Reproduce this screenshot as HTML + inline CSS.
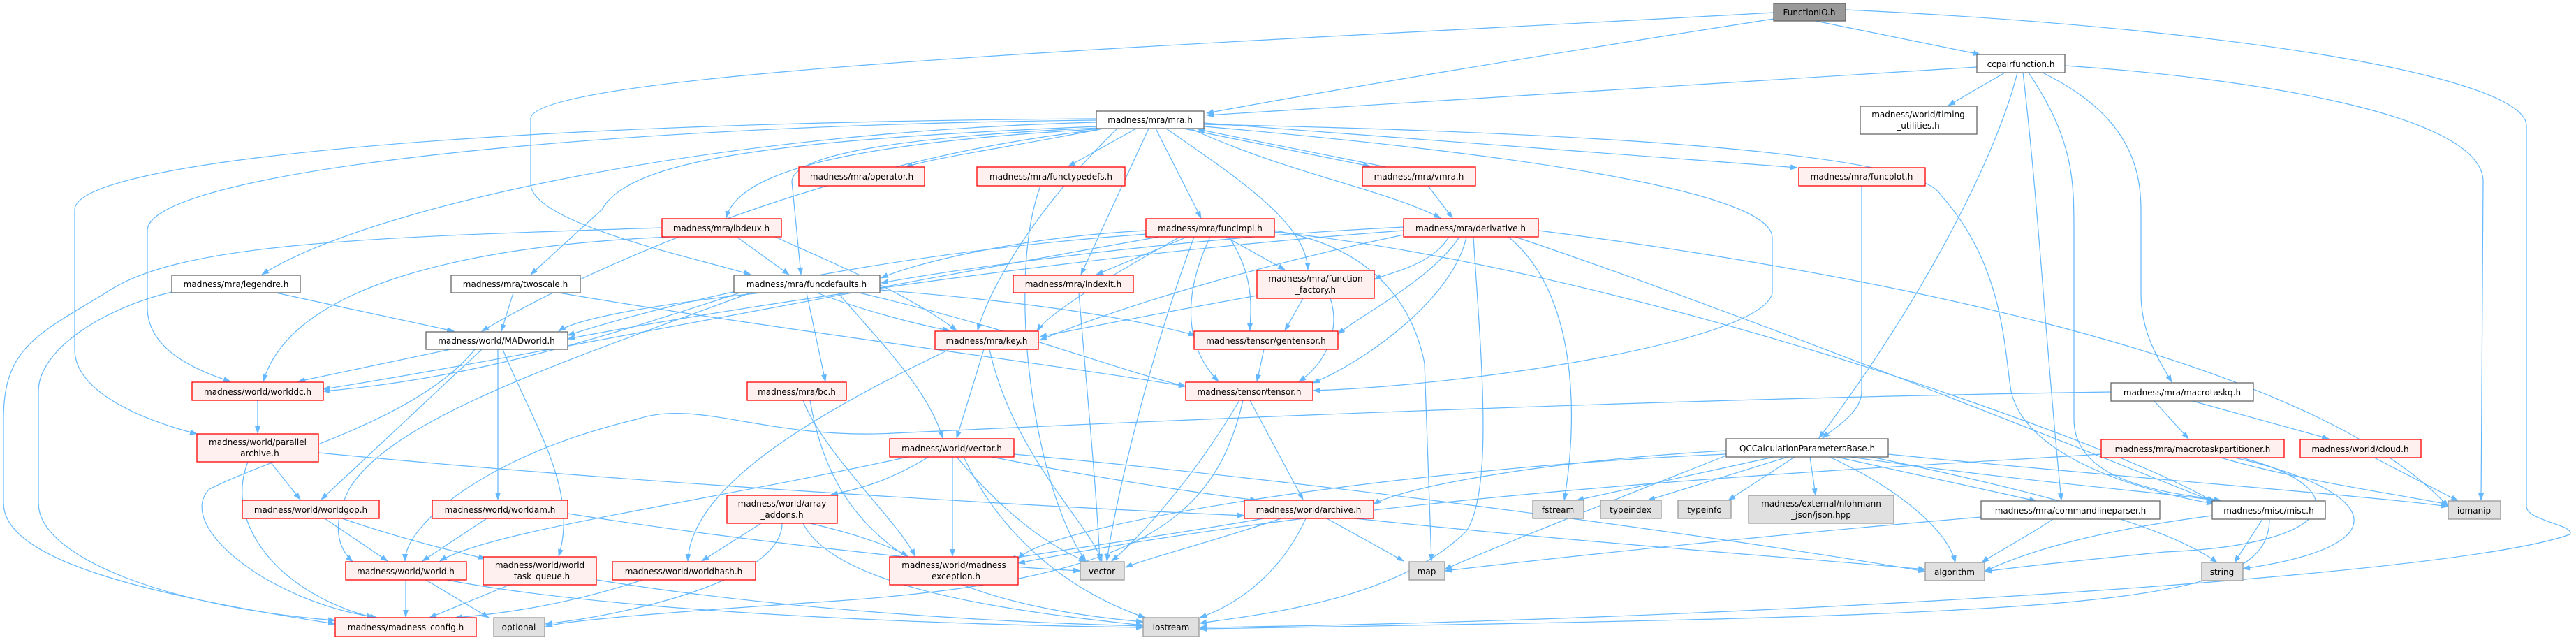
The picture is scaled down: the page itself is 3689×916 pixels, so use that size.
<!DOCTYPE html>
<html><head><meta charset="utf-8"><style>
html,body{margin:0;padding:0;background:#fff;}
svg{display:block;}
text{font-family:"DejaVu Sans","Liberation Sans",sans-serif;font-size:12px;fill:#000;text-anchor:middle;}
.e{fill:none;stroke:#63b8ff;stroke-width:1.2;marker-end:url(#a);}
.r{fill:#fff0f0;stroke:#ff0000;stroke-width:1.3;}
.w{fill:#fff;stroke:#666;stroke-width:1.3;}
.g{fill:#e0e0e0;stroke:#999;stroke-width:1.3;}
.d{fill:#999;stroke:#666;stroke-width:1.3;}
</style></head><body>
<svg width="3689" height="916" viewBox="0 0 3689 916" xmlns="http://www.w3.org/2000/svg">
<defs><marker id="a" markerWidth="11" markerHeight="8" refX="10" refY="4" orient="auto" markerUnits="userSpaceOnUse"><path d="M0,0 L11,4 L0,8 z" fill="#63b8ff"/></marker></defs>
<g>
<path class="e" d="M2540,27 C2200,80 1900,130 1728,162"/>
<path class="e" d="M2540,18 C1800,60 760,100 760,170 L760,263 C760,320 1000,370 1075,393"/>
<path class="e" d="M2600,30 L2836,78"/>
<path class="e" d="M2643,14 C3200,40 3618,110 3618,180 L3618,725 C3618,745 3690,752 3680,765 C3500,830 2400,890 1718,898"/>
<path class="e" d="M2831,96 L1728,165"/>
<path class="e" d="M2871,104 L2790,151"/>
<path class="e" d="M2889,104 C2860,220 2760,420 2605,627"/>
<path class="e" d="M2897,104 C2920,300 2930,500 2952,716"/>
<path class="e" d="M2905,104 C2970,200 2970,260 2970,330 L2970,600 C2970,690 3100,705 3180,716"/>
<path class="e" d="M2925,104 C3040,160 3066,230 3066,300 L3066,420 C3066,480 3095,520 3110,547"/>
<path class="e" d="M2957,94 C3200,110 3556,160 3556,260 L3553,716"/>
<path class="e" d="M1580,184 C1450,210 1340,225 1297,239"/>
<path class="e" d="M1627,184 L1530,238"/>
<path class="e" d="M1695,184 L1962,238"/>
<path class="e" d="M1985,239 L1715,185"/>
<path class="e" d="M1655,184 L1720,312"/>
<path class="e" d="M1705,184 C1850,250 1980,270 2063,312"/>
<path class="e" d="M1645,184 L1548,393"/>
<path class="e" d="M1670,184 C1780,260 1870,320 1873,386"/>
<path class="e" d="M1724,176 L2574,240"/>
<path class="e" d="M1585,184 C1300,200 1060,230 1040,312"/>
<path class="e" d="M1575,183 C1300,195 1135,220 1134,260 L1147,393"/>
<path class="e" d="M1570,175 C1000,190 520,300 375,393"/>
<path class="e" d="M1572,181 C1100,200 900,230 862,300 L760,393"/>
<path class="e" d="M1572,186 C1250,220 900,350 690,474"/>
<path class="e" d="M1570,172 C800,180 211,250 211,330 L211,440 C211,500 280,530 330,546"/>
<path class="e" d="M1570,170 C700,175 107,230 107,300 L107,500 C107,560 200,600 282,621"/>
<path class="e" d="M1600,184 C1500,280 1420,400 1400,473"/>
<path class="e" d="M1724,181 C2400,240 2538,300 2538,340 L2538,420 C2520,490 2100,552 1881,559"/>
<path class="e" d="M1724,178 C2300,190 2750,220 2780,280 C2870,380 2870,500 2880,560 C2900,650 3050,700 3170,721"/>
<path class="e" d="M1055,339 L1130,393"/>
<path class="e" d="M1110,339 C1200,380 1300,420 1370,473"/>
<path class="e" d="M960,339 C700,350 420,400 377,546"/>
<path class="e" d="M948,326 C500,340 250,350 150,420 C50,480 5,500 5,600 L5,720 C5,800 200,850 480,893"/>
<path class="e" d="M246,418 C150,440 55,500 55,560 L55,720 C55,800 250,870 480,888"/>
<path class="e" d="M395,419 L650,474"/>
<path class="e" d="M735,419 L718,474"/>
<path class="e" d="M800,419 C1100,470 1500,520 1698,553"/>
<path class="e" d="M1090,419 C900,440 820,460 800,474"/>
<path class="e" d="M1155,419 L1182,546"/>
<path class="e" d="M1170,419 C1250,450 1340,470 1360,473"/>
<path class="e" d="M1200,419 C1270,500 1330,560 1350,627"/>
<path class="e" d="M1260,415 C1450,430 1600,450 1712,480"/>
<path class="e" d="M1230,419 C1450,470 1600,530 1698,553"/>
<path class="e" d="M1060,419 C900,470 700,540 463,560"/>
<path class="e" d="M1075,419 C800,520 560,600 500,700 C470,760 490,790 505,804"/>
<path class="e" d="M1641,330 C1450,340 1300,380 1262,398"/>
<path class="e" d="M1641,335 C1300,360 1000,420 813,480"/>
<path class="e" d="M1660,339 C1200,420 700,520 463,557"/>
<path class="e" d="M1690,339 C1580,400 1500,450 1485,474"/>
<path class="e" d="M1700,339 L1570,393"/>
<path class="e" d="M1755,339 L1840,386"/>
<path class="e" d="M1760,339 C1800,400 1790,450 1790,473"/>
<path class="e" d="M1733,339 C1690,430 1700,500 1745,546"/>
<path class="e" d="M1825,330 C1950,350 2020,420 2040,520 L2050,803"/>
<path class="e" d="M1825,332 C2300,380 3000,620 3170,718"/>
<path class="e" d="M1710,339 C1650,500 1600,700 1585,803"/>
<path class="e" d="M2010,325 C1700,340 1400,380 1262,405"/>
<path class="e" d="M2010,330 C1600,360 1100,430 813,485"/>
<path class="e" d="M2010,336 C1800,380 1600,440 1489,487"/>
<path class="e" d="M2075,339 C2050,380 1990,390 1968,400"/>
<path class="e" d="M2090,339 C2050,400 1950,450 1916,478"/>
<path class="e" d="M2100,339 C2080,430 1950,520 1880,548"/>
<path class="e" d="M2110,339 C2120,500 2140,700 2100,760 C2000,860 1800,880 1718,892"/>
<path class="e" d="M2160,339 C2260,420 2260,600 2240,716"/>
<path class="e" d="M2203,330 C2600,380 3300,500 3506,725"/>
<path class="e" d="M2170,339 C2500,450 3000,650 3170,718"/>
<path class="e" d="M1800,423 C1650,450 1550,470 1489,482"/>
<path class="e" d="M1866,427 L1840,473"/>
<path class="e" d="M1905,427 C1920,470 1900,520 1860,546"/>
<path class="e" d="M2045,266 L2080,312"/>
<path class="e" d="M1490,266 C1440,400 1480,700 1555,803"/>
<path class="e" d="M1545,419 C1560,600 1570,700 1575,803"/>
<path class="e" d="M2666,266 L2666,560 C2666,590 2630,610 2610,627"/>
<path class="e" d="M1409,500 L1370,627"/>
<path class="e" d="M1417,500 C1450,650 1560,750 1578,803"/>
<path class="e" d="M1360,500 C1150,600 990,700 985,803"/>
<path class="e" d="M1810,500 L1800,546"/>
<path class="e" d="M1775,573 C1700,700 1620,780 1592,803"/>
<path class="e" d="M1790,573 L1866,715"/>
<path class="e" d="M1780,573 C1740,750 1620,830 1200,860 C900,880 800,890 781,897"/>
<path class="e" d="M1330,654 C1270,690 1230,700 1190,708"/>
<path class="e" d="M1300,654 C1000,720 700,760 630,803"/>
<path class="e" d="M1364,654 L1364,796"/>
<path class="e" d="M1370,654 C1450,750 1520,790 1555,803"/>
<path class="e" d="M1380,654 C1450,800 1570,860 1640,884"/>
<path class="e" d="M1420,654 C1600,690 1750,710 1800,716"/>
<path class="e" d="M1452,650 C2000,700 2600,790 2757,818"/>
<path class="e" d="M1090,749 L1005,803"/>
<path class="e" d="M1160,749 C1250,770 1290,790 1300,796"/>
<path class="e" d="M1120,749 C1120,830 900,880 781,893"/>
<path class="e" d="M1150,749 C1200,850 1500,880 1637,895"/>
<path class="e" d="M1150,573 C1180,650 1290,750 1310,796"/>
<path class="e" d="M1160,573 C1190,750 1300,860 1637,890"/>
<path class="e" d="M1810,742 C1650,770 1500,790 1445,800"/>
<path class="e" d="M1835,742 C1720,780 1640,800 1612,812"/>
<path class="e" d="M1900,742 L2010,803"/>
<path class="e" d="M1870,742 C1830,830 1760,870 1718,884"/>
<path class="e" d="M1940,742 C2300,780 2600,800 2757,815"/>
<path class="e" d="M2472,645 C2200,660 2000,700 1967,722"/>
<path class="e" d="M2540,654 L2258,716"/>
<path class="e" d="M2560,654 L2360,716"/>
<path class="e" d="M2570,654 L2475,716"/>
<path class="e" d="M2592,654 L2600,709"/>
<path class="e" d="M2620,654 C2720,700 2790,760 2800,805"/>
<path class="e" d="M2630,654 L2916,717"/>
<path class="e" d="M2650,654 C2900,690 3100,705 3172,716"/>
<path class="e" d="M2680,654 C2900,700 3100,750 3175,805"/>
<path class="e" d="M2704,650 C3000,680 3400,710 3506,725"/>
<path class="e" d="M2472,650 C2000,670 1500,750 1458,800"/>
<path class="e" d="M2472,652 C2300,720 2100,800 2069,815"/>
<path class="e" d="M2940,743 C2900,770 2860,790 2838,805"/>
<path class="e" d="M2837,740 C2600,760 2300,790 2069,817"/>
<path class="e" d="M3240,743 L3200,805"/>
<path class="e" d="M3250,743 C3250,870 3000,880 1718,900"/>
<path class="e" d="M3168,738 C3000,760 2900,790 2842,818"/>
<path class="e" d="M3023,561 C2400,570 1700,600 1280,620 C1100,630 1000,570 912,600 C700,650 580,750 580,803"/>
<path class="e" d="M3085,574 L3134,628"/>
<path class="e" d="M3140,574 L3335,628"/>
<path class="e" d="M3180,655 C3300,690 3450,710 3506,722"/>
<path class="e" d="M3200,655 C3400,700 3450,780 3212,814"/>
<path class="e" d="M3009,650 C2700,670 2000,700 1458,806"/>
<path class="e" d="M3210,655 C3380,700 3350,780 3100,790 C3000,800 2900,810 2842,818"/>
<path class="e" d="M3400,655 L3520,717"/>
<path class="e" d="M645,500 L427,546"/>
<path class="e" d="M690,500 L460,715"/>
<path class="e" d="M713,500 L713,715"/>
<path class="e" d="M720,500 C760,600 830,700 800,796"/>
<path class="e" d="M680,500 C600,600 400,650 300,700 C250,750 380,860 540,884"/>
<path class="e" d="M369,573 L369,620"/>
<path class="e" d="M387,661 L430,715"/>
<path class="e" d="M355,661 C320,750 400,850 535,884"/>
<path class="e" d="M456,648 C1000,700 1600,730 1782,738"/>
<path class="e" d="M465,742 L555,803"/>
<path class="e" d="M490,742 C600,780 680,795 695,800"/>
<path class="e" d="M697,742 L605,803"/>
<path class="e" d="M813,735 C1100,780 1400,810 1547,817"/>
<path class="e" d="M581,830 L581,883"/>
<path class="e" d="M610,830 L700,884"/>
<path class="e" d="M640,830 C900,880 1400,895 1637,898"/>
<path class="e" d="M730,837 L615,884"/>
<path class="e" d="M855,830 C1100,870 1400,890 1637,896"/>
<path class="e" d="M920,830 C800,870 700,880 652,884"/>
</g>
<g>
<rect class="d" x="2540" y="5" width="103" height="25"/><text x="2591" y="22">FunctionIO.h</text>
<rect class="w" x="2831" y="78" width="126" height="26"/><text x="2894" y="96">ccpairfunction.h</text>
<rect class="w" x="2664" y="152" width="167" height="40"/><text x="2747" y="168">madness/world/timing</text><text x="2747" y="184">_utilities.h</text>
<rect class="w" x="1570" y="159" width="154" height="25"/><text x="1647" y="176">madness/mra/mra.h</text>
<rect class="r" x="1144" y="239" width="180" height="27"/><text x="1234" y="257">madness/mra/operator.h</text>
<rect class="r" x="1399" y="239" width="212" height="27"/><text x="1505" y="257">madness/mra/functypedefs.h</text>
<rect class="r" x="1951" y="239" width="162" height="27"/><text x="2032" y="257">madness/mra/vmra.h</text>
<rect class="r" x="2576" y="240" width="181" height="26"/><text x="2666" y="257">madness/mra/funcplot.h</text>
<rect class="r" x="948" y="313" width="171" height="26"/><text x="1033" y="331">madness/mra/lbdeux.h</text>
<rect class="r" x="1641" y="313" width="184" height="26"/><text x="1733" y="331">madness/mra/funcimpl.h</text>
<rect class="r" x="2010" y="313" width="193" height="26"/><text x="2106" y="331">madness/mra/derivative.h</text>
<rect class="w" x="246" y="394" width="184" height="25"/><text x="338" y="411">madness/mra/legendre.h</text>
<rect class="w" x="646" y="394" width="185" height="25"/><text x="738" y="411">madness/mra/twoscale.h</text>
<rect class="w" x="1051" y="394" width="209" height="25"/><text x="1155" y="411">madness/mra/funcdefaults.h</text>
<rect class="r" x="1451" y="394" width="172" height="25"/><text x="1537" y="411">madness/mra/indexit.h</text>
<rect class="r" x="1800" y="387" width="168" height="40"/><text x="1884" y="403">madness/mra/function</text><text x="1884" y="419">_factory.h</text>
<rect class="w" x="610" y="475" width="203" height="25"/><text x="711" y="492">madness/world/MADworld.h</text>
<rect class="r" x="1339" y="474" width="148" height="26"/><text x="1413" y="492">madness/mra/key.h</text>
<rect class="r" x="1710" y="474" width="206" height="26"/><text x="1813" y="492">madness/tensor/gentensor.h</text>
<rect class="r" x="275" y="547" width="188" height="26"/><text x="369" y="565">madness/world/worlddc.h</text>
<rect class="r" x="1070" y="547" width="142" height="26"/><text x="1141" y="565">madness/mra/bc.h</text>
<rect class="r" x="1698" y="547" width="182" height="26"/><text x="1789" y="565">madness/tensor/tensor.h</text>
<rect class="w" x="3023" y="548" width="204" height="26"/><text x="3125" y="566">madness/mra/macrotaskq.h</text>
<rect class="r" x="282" y="621" width="174" height="40"/><text x="369" y="637">madness/world/parallel</text><text x="369" y="653">_archive.h</text>
<rect class="r" x="1274" y="628" width="178" height="26"/><text x="1363" y="646">madness/world/vector.h</text>
<rect class="w" x="2472" y="628" width="232" height="26"/><text x="2588" y="646">QCCalculationParametersBase.h</text>
<rect class="r" x="3009" y="629" width="262" height="26"/><text x="3140" y="647">madness/mra/macrotaskpartitioner.h</text>
<rect class="r" x="3294" y="629" width="173" height="26"/><text x="3380" y="647">madness/world/cloud.h</text>
<rect class="r" x="347" y="716" width="196" height="26"/><text x="445" y="734">madness/world/worldgop.h</text>
<rect class="r" x="619" y="716" width="194" height="26"/><text x="716" y="734">madness/world/worldam.h</text>
<rect class="r" x="1041" y="709" width="158" height="40"/><text x="1120" y="725">madness/world/array</text><text x="1120" y="741">_addons.h</text>
<rect class="r" x="1782" y="716" width="185" height="26"/><text x="1874" y="734">madness/world/archive.h</text>
<rect class="g" x="2195" y="716" width="73" height="26"/><text x="2231" y="734">fstream</text>
<rect class="g" x="2292" y="716" width="87" height="26"/><text x="2335" y="734">typeindex</text>
<rect class="g" x="2403" y="716" width="76" height="26"/><text x="2441" y="734">typeinfo</text>
<rect class="g" x="2504" y="709" width="208" height="40"/><text x="2608" y="725">madness/external/nlohmann</text><text x="2608" y="741">_json/json.hpp</text>
<rect class="w" x="2837" y="717" width="256" height="26"/><text x="2965" y="735">madness/mra/commandlineparser.h</text>
<rect class="w" x="3168" y="717" width="162" height="26"/><text x="3249" y="735">madness/misc/misc.h</text>
<rect class="g" x="3506" y="717" width="75" height="26"/><text x="3543" y="735">iomanip</text>
<rect class="r" x="495" y="804" width="173" height="26"/><text x="581" y="822">madness/world/world.h</text>
<rect class="r" x="692" y="797" width="162" height="40"/><text x="773" y="813">madness/world/world</text><text x="773" y="829">_task_queue.h</text>
<rect class="r" x="877" y="804" width="205" height="26"/><text x="979" y="822">madness/world/worldhash.h</text>
<rect class="r" x="1274" y="797" width="184" height="40"/><text x="1366" y="813">madness/world/madness</text><text x="1366" y="829">_exception.h</text>
<rect class="g" x="1547" y="804" width="63" height="26"/><text x="1578" y="822">vector</text>
<rect class="g" x="2018" y="804" width="51" height="26"/><text x="2043" y="822">map</text>
<rect class="g" x="2757" y="805" width="85" height="26"/><text x="2799" y="823">algorithm</text>
<rect class="g" x="3153" y="805" width="59" height="26"/><text x="3182" y="823">string</text>
<rect class="r" x="480" y="884" width="202" height="27"/><text x="581" y="902">madness/madness_config.h</text>
<rect class="g" x="707" y="884" width="73" height="27"/><text x="743" y="902">optional</text>
<rect class="g" x="1637" y="884" width="80" height="27"/><text x="1677" y="902">iostream</text>
</g>
</svg>
</body></html>
